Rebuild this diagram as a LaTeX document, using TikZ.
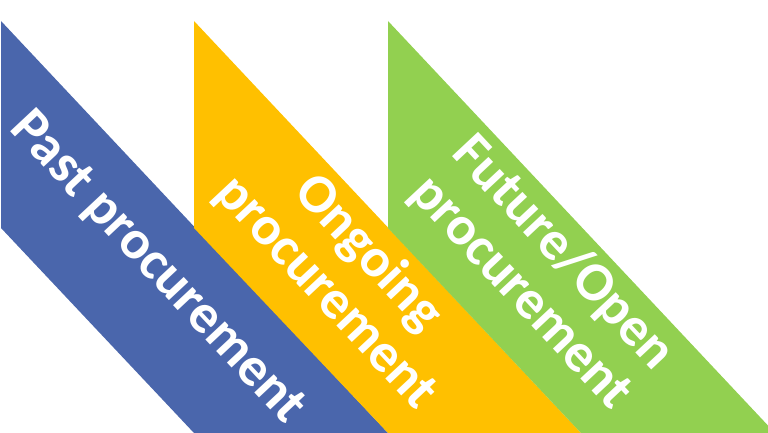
\documentclass[tikz,border=0pt]{standalone}
\usepackage{fontspec}
\setmainfont{Carlito}
\usepackage{xcolor}
\definecolor{pastblue}{HTML}{4A66AC}
\definecolor{ongoingyellow}{HTML}{FFC000}
\definecolor{futuregreen}{HTML}{92D050}
\begin{document}
\begin{tikzpicture}[x=1pt, y=-1pt,
        bandtext/.style={text=white, font=\fontsize{55}{58}\selectfont\bfseries, align=center, rotate=-46.9, inner sep=0pt}]
        \useasboundingbox (0,0) rectangle (768,433);
        \clip (0,0) rectangle (768,433);
        % Bands
        \fill[pastblue] (1,21) -- (388,433) -- (194,433) -- (1,228) -- cycle;
        \fill[ongoingyellow] (194,21) -- (581,433) -- (388,433) -- (194,228) -- cycle;
        \fill[futuregreen] (388,21) -- (775,433) -- (581,433) -- (388,228) -- cycle;
        % Labels
        \node[bandtext] (past) at (157,268) {Past procurement};
        \node[bandtext] (ongoing) at (347,273) {Ongoing\\procurement};
        \node[bandtext] (future) at (542,273) {Future/Open\\procurement};
    \end{tikzpicture}
\end{document}
